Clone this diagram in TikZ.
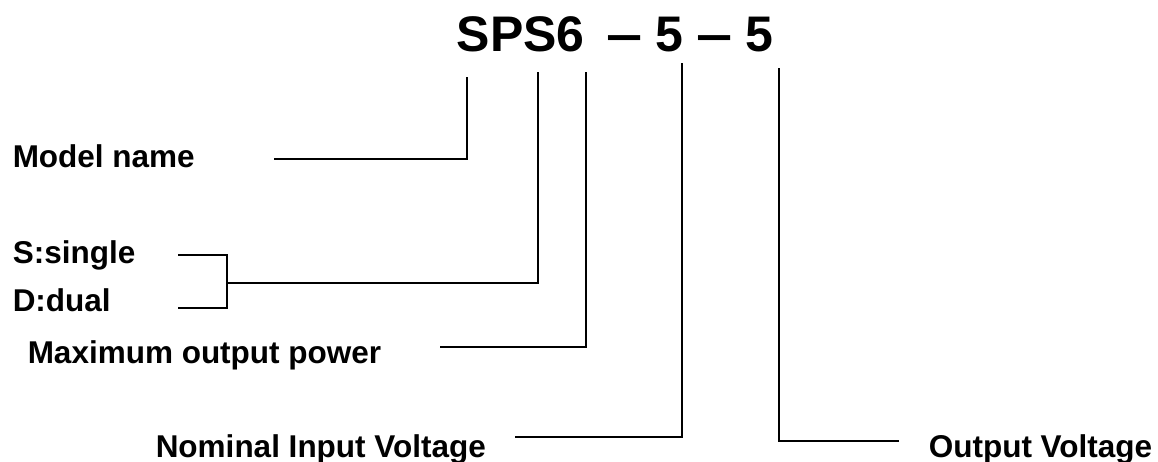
\documentclass[tikz,border=0pt]{standalone}
\usepackage{fontspec}
\setmainfont{Liberation Sans}
\newcommand{\wdash}{\scalebox{1.3}[1]{–}}
\tikzset{
  lbl/.style={anchor=base west,inner sep=0pt,font=\bfseries\fontsize{31.5}{36}\selectfont},
  code/.style={anchor=base west,inner sep=0pt,font=\bfseries\fontsize{50}{56}\selectfont}
}
\begin{document}
\begin{tikzpicture}[x=1pt,y=-1pt,line width=1.5pt]
\useasboundingbox (0,0) rectangle (1158,462);
% part number
\node[code] (title) at (456,52) {SPS6\hspace{0.44em}\wdash\hspace{0.26em}5\hspace{0.26em}\wdash\hspace{0.26em}5};
% labels
\node[lbl] (model) at (12,168) {Model name};
\node[lbl] (single) at (12,263) {S:single};
\node[lbl] (dual) at (12,311) {D:dual};
\node[lbl] (power) at (27,363) {Maximum output power};
\node[lbl] (vin) at (155,457) {Nominal Input Voltage};
\node[lbl] (vout) at (928,457) {Output Voltage};
% line ends
\coordinate (modelT) at (467,77);
\coordinate (typeT) at (538,72);
\coordinate (powerT) at (586,72);
\coordinate (vinT) at (682,63);
\coordinate (voutT) at (779,68);
\coordinate (modelL) at (274,159);
\coordinate (singleL) at (178,255);
\coordinate (dualL) at (178,308);
\coordinate (brk) at (227,283);
\coordinate (powerL) at (440,347);
\coordinate (vinL) at (515,437);
\coordinate (voutR) at (899,441);
% connectors
\draw (modelL) -| (modelT);
\draw (singleL) -| (brk) |- (dualL);
\draw (brk) -| (typeT);
\draw (powerL) -| (powerT);
\draw (vinL) -| (vinT);
\draw (voutR) -| (voutT);
\end{tikzpicture}
\end{document}
